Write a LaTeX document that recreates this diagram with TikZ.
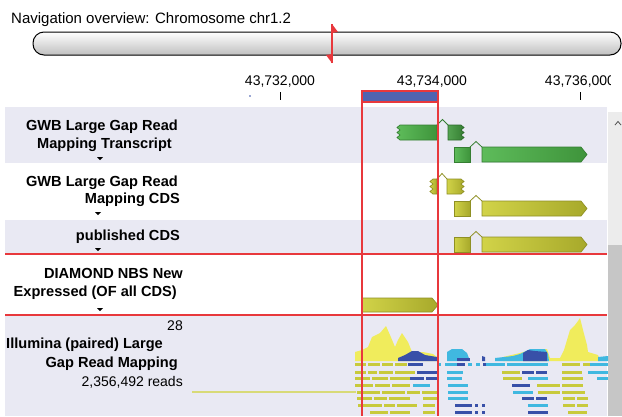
\documentclass[tikz,border=0pt]{standalone}
\usepackage{fontspec}
\setmainfont{Liberation Sans}
\usetikzlibrary{positioning,calc}
\definecolor{trackbg}{RGB}{233,233,243}
\definecolor{markred}{RGB}{232,56,60}
\definecolor{boxblue}{RGB}{80,100,176}
\definecolor{genegreen}{RGB}{76,180,72}
\definecolor{geneyellow}{RGB}{204,206,52}
\definecolor{covyellow}{RGB}{240,236,92}
\definecolor{readyellow}{RGB}{200,202,60}
\definecolor{lightblue}{RGB}{64,184,224}
\definecolor{darkblue}{RGB}{56,80,168}
\tikzset{
  lbl/.style={font=\fontsize{14.6}{16}\selectfont\bfseries, anchor=east, inner sep=0pt},
  plain/.style={font=\fontsize{14}{16}\selectfont, inner sep=0pt},
  redline/.style={draw=markred, line width=1.5pt},
  gene/.style={draw=#1!70!black, line width=0.7pt, left color=#1!90!white, right color=#1!82!black},
  intron/.style={draw=#1!70!black, line width=0.8pt},
  readY/.style={draw=readyellow, line width=3pt},
  readL/.style={draw=lightblue, line width=3pt},
  readD/.style={draw=darkblue, line width=3pt},
  dropmark/.style={fill=black}
}

\begin{document}
\begin{tikzpicture}[x=1pt,y=-1pt]
\useasboundingbox (0,0) rectangle (622,416);
\clip (0,0) rectangle (622,416);
\fill[white] (0,0) rectangle (622,416);
% navigation overview
\node[plain, anchor=base west, font=\fontsize{15}{16}\selectfont] (navtitle) at (11,23) {Navigation overview: Chromosome chr1.2};
\shade[draw=black, line width=1pt, rounded corners=11pt, top color=white, middle color=white, bottom color=gray!50, shading angle=0] (33,32) rectangle (621,55);
\coordinate (M1) at (332,24);
\coordinate (M2) at (332,63);
\draw[markred, line width=1.3pt] (M1) -- (M2);
\fill[markred] (M1) -- (338,32) -- (332,33) -- cycle;
\fill[markred] (M2) -- (326,55) -- (332,54) -- cycle;
% ruler
\node[plain] (r1) at (280,82) {43,732,000};
\node[plain] (r2) at (432,82) {43,734,000};
\begin{scope}
\clip (500,70) rectangle (610,90);
\node[plain] (r3) at (580,82) {43,736,000};
\end{scope}
\draw[line width=1pt] (280,92) -- (280,100);
\draw[line width=1pt] (580,92) -- (580,100);
\fill[darkblue] (250,96) circle[radius=0.9pt];
% tracks
\fill[trackbg] (5,107) rectangle (607,163);
\fill[trackbg] (5,220) rectangle (607,254);
\fill[trackbg] (5,315) rectangle (607,416);
\fill[gray!15] (608,112) rectangle (622,245);
\fill[gray!45] (608,245) rectangle (622,416);
\draw[gray!60!black, line width=0.8pt] (615,125) -- (618,121.5) -- (621,125);
% track labels
\node[lbl] (t1a) at (178,127) {GWB Large Gap Read};
\node[lbl] (t1b) at (172,145) {Mapping Transcript};
\node[lbl] (t2a) at (178,183) {GWB Large Gap Read};
\node[lbl] (t2b) at (180,200) {Mapping CDS};
\node[lbl] (t3a) at (180,237) {published CDS};
\node[lbl] (t4a) at (183,273) {DIAMOND NBS New};
\node[lbl] (t4b) at (177,293) {Expressed (OF all CDS)};
\node[plain, anchor=east] (t5n) at (183,326) {28};
\node[lbl] (t5a) at (163,345) {Illumina (paired) Large};
\node[lbl] (t5b) at (178,364) {Gap Read Mapping};
\node[plain, anchor=east] (t5c) at (183,382) {2,356,492 reads};
\foreach \x/\y in {100/157, 98/212, 98/248, 100/308}
  \fill[dropmark] (\x-3,\y) -- (\x+3,\y) -- (\x,\y+3) -- cycle;
% GWB transcript
\draw[gene=genegreen] (400,125) -- (437,125) -- (437,140) -- (400,140) -- (397,137.5) -- (400,135) -- (397,132.5) -- (400,130) -- (397,127.5) -- cycle;
\draw[intron=genegreen] (437,125) -- (442.5,119.5) -- (448,125);
\draw[gene=genegreen!85!black] (448,125) -- (461,125) -- (464,127.5) -- (461,130) -- (464,132.5) -- (461,135) -- (464,137.5) -- (461,140) -- (448,140) -- cycle;
\draw[gene=genegreen] (454,147) rectangle (470,162);
\draw[intron=genegreen] (470,147) -- (476,141.5) -- (482,147);
\draw[gene=genegreen] (482,147) -- (581,147) -- (587,154.5) -- (581,162) -- (482,162) -- cycle;
% GWB CDS
\draw[gene=geneyellow] (433,179) -- (437,179) -- (437,194) -- (433,194) -- (430,191.5) -- (433,189) -- (430,186.5) -- (433,184) -- (430,181.5) -- cycle;
\draw[intron=geneyellow] (437,179) -- (442,173.5) -- (447,179);
\draw[gene=geneyellow] (447,179) -- (461,179) -- (464,181.5) -- (461,184) -- (464,186.5) -- (461,189) -- (464,191.5) -- (461,194) -- (447,194) -- cycle;
\draw[gene=geneyellow] (454,201) rectangle (470,216);
\draw[intron=geneyellow] (470,201) -- (476,195.5) -- (482,201);
\draw[gene=geneyellow] (482,201) -- (581,201) -- (587,208.5) -- (581,216) -- (482,216) -- cycle;
% published CDS
\draw[gene=geneyellow] (454,237) rectangle (470,252);
\draw[intron=geneyellow] (470,237) -- (476,231.5) -- (482,237);
\draw[gene=geneyellow] (482,237) -- (581,237) -- (587,244.5) -- (581,252) -- (482,252) -- cycle;
% DIAMOND
\draw[gene=geneyellow] (362,298) -- (432,298) -- (438,305) -- (432,312) -- (362,312) -- cycle;
% coverage
\fill[covyellow] (355,361) -- (355,352) -- (362,350) -- (368,347) -- (372,337) -- (380,333) -- (386,326) -- (390,335) -- (395,347) -- (398,340) -- (402,333) -- (408,342) -- (412,352) -- (423,352) -- (433,354) -- (437,357) -- (437,361) -- cycle;
\fill[covyellow] (503,361) -- (503,357) -- (520,353) -- (530,350) -- (547,349) -- (550,358) -- (560,358) -- (564,350) -- (567,340) -- (570,330) -- (575,325) -- (578,321) -- (580,318) -- (583,330) -- (587,345) -- (588,352) -- (598,355) -- (600,361) -- cycle;
\fill[lightblue] (447,361) -- (447,352) -- (452,349) -- (462,349) -- (467,353) -- (470,361) -- cycle;
\fill[lightblue] (495,361) -- (495,358) -- (513,356) -- (520,354) -- (530,349) -- (545,349) -- (548,354) -- (549,361) -- cycle;
\fill[lightblue] (598,361) -- (598,357) -- (608,356) -- (608,361) -- cycle;
\fill[darkblue] (398,361) -- (398,358) -- (405,355) -- (412,351) -- (418,351) -- (425,355) -- (437,357) -- (437,361) -- cycle;
\fill[darkblue] (457,361) -- (457,358) -- (470,358) -- (470,361) -- cycle;
\fill[darkblue] (482,361) -- (482,356) -- (485,357) -- (485,361) -- cycle;
\fill[darkblue] (523,361) -- (523,353) -- (528,350) -- (535,351) -- (547,352) -- (547,361) -- cycle;
% reads
\draw[readyellow!70!white, line width=1.5pt] (192,392) -- (356,392);
\foreach \y/\a/\b in {364/355/366, 364/368/380, 364/382/393, 364/395/407, 364/562/580, 364/583/600,
  372/355/366, 372/368/377, 372/379/393, 372/395/415, 372/502/520, 372/562/582,
  378/355/370, 378/372/388, 378/390/410, 378/503/522, 378/562/583,
  385/355/373, 385/375/390, 385/392/410, 385/537/560, 385/562/583,
  392/357/380, 392/382/405, 392/407/420, 392/422/437, 392/538/560, 392/562/585,
  398/357/372, 398/374/387, 398/389/410, 398/423/437, 398/563/575, 398/577/588,
  405/358/382, 405/384/395, 405/397/417, 405/423/435, 405/563/575, 405/577/588,
  412/370/388, 412/390/410, 412/423/435, 412/568/587}
  \draw[readY] (\a,\y) -- (\b,\y);
\foreach \y/\a/\b in {364/437/441, 364/445/465, 364/468/472, 364/476/480, 364/483/505, 364/507/548, 364/590/608,
  372/447/463, 372/588/608,
  378/447/462, 378/528/548, 378/597/608,
  385/413/430, 385/448/468,
  392/448/468, 392/513/533,
  398/448/468,
  405/528/548}
  \draw[readL] (\a,\y) -- (\b,\y);
\foreach \y/\a/\b in {364/408/423, 364/457/465, 364/483/486,
  372/417/437, 372/522/534, 372/536/547,
  378/410/424, 378/426/437,
  385/512/530,
  398/522/534, 398/536/547,
  405/455/472, 405/475/478, 405/482/485,
  412/455/472, 412/475/478, 412/482/485, 412/528/548}
  \draw[readD] (\a,\y) -- (\b,\y);
% selection
\fill[boxblue] (362,91) rectangle (438,102);
\draw[redline] (362,91) rectangle (438,102);
\draw[redline] (362,102) -- (362,416);
\draw[redline] (438,102) -- (438,416);
\draw[redline] (5,254) -- (607,254);
\draw[redline] (5,315) -- (607,315);
\end{tikzpicture}
\end{document}
